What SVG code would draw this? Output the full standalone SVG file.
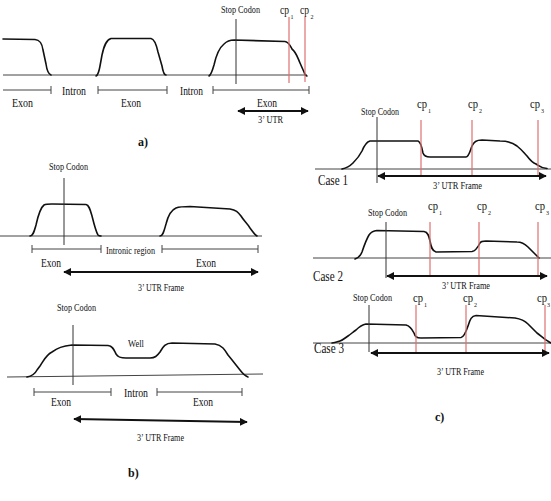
<svg xmlns="http://www.w3.org/2000/svg" width="551" height="501" viewBox="0 0 551 501">
<style>
text{font-family:"Liberation Serif","Times New Roman",serif;fill:#111}
.sm{font-size:10px}
.md{font-size:12px}
.lg{font-size:14px}
.cp{font-size:12px}
.sub{font-size:6px}
.lbl{font-size:12px;font-weight:bold}
.curve{fill:none;stroke:#111;stroke-width:1.6;stroke-linejoin:round;stroke-linecap:round}
.base{fill:none;stroke:#444;stroke-width:1}
.span{fill:none;stroke:#444;stroke-width:1}
.stop{stroke:#333;stroke-width:1}
.red{stroke:#e07070;stroke-width:1.2}
.arrow{stroke:#111;stroke-width:1.8;marker-start:url(#ah);marker-end:url(#ah)}
</style>
<defs>
<marker id="ah" viewBox="0 0 10 10" refX="9" refY="5" markerWidth="4.5" markerHeight="4.5" orient="auto-start-reverse">
<path d="M0,0 L10,5 L0,10 z" fill="#111"/>
</marker>
</defs>
<rect width="551" height="501" fill="#fff"/>

<!-- Panel a -->
<g id="panel-a">
<line class="base" x1="3" y1="75" x2="307" y2="75"/>
<path class="curve" d="M3,39 L35,39.5 C40,40 42,43 43,50 L46,64 C47,71 48,74 51,75"/>
<path class="curve" d="M96,76 C98,75 99,72 100,66 L102,55 C104,46 106,40 111,38.5 L151,38.5 C154,39 156,43 158,52 L162,66 C163,72 164,75 166,75"/>
<path class="curve" d="M209,76 C211,75 212,72 214,65 C216,56 219,48 224,44 C227,41 230,40 234,40 L285,41.5 C289,42 290,46 292,49 C296,52 297,56 300,63 L304,72 C305,75 306,76 307,76"/>
<line class="stop" x1="236" y1="19" x2="236" y2="84"/>
<line class="red" x1="289" y1="17" x2="289" y2="83"/>
<line class="red" x1="305" y1="17" x2="305" y2="82"/>
<text class="sm" x="221" y="12.5" textLength="39" lengthAdjust="spacingAndGlyphs">Stop Codon</text>
<text class="cp" x="280" y="14" textLength="9" lengthAdjust="spacingAndGlyphs">cp</text>
<text class="sub" x="290.5" y="19">1</text>
<text class="cp" x="300" y="14" textLength="9" lengthAdjust="spacingAndGlyphs">cp</text>
<text class="sub" x="310.5" y="19">2</text>
<path class="span" d="M3,90 L51,90 M51,86 L51,94"/>
<path class="span" d="M98,90 L167,90 M98,86 L98,94 M167,86 L167,94"/>
<path class="span" d="M213,90 L309,90 M213,86 L213,94 M309,86 L309,94"/>
<text class="md" x="62" y="95" textLength="24" lengthAdjust="spacingAndGlyphs">Intron</text>
<text class="md" x="180" y="95" textLength="23" lengthAdjust="spacingAndGlyphs">Intron</text>
<text class="md" x="12" y="107" textLength="21" lengthAdjust="spacingAndGlyphs">Exon</text>
<text class="md" x="121" y="107" textLength="20" lengthAdjust="spacingAndGlyphs">Exon</text>
<text class="md" x="257" y="107" textLength="20" lengthAdjust="spacingAndGlyphs">Exon</text>
<line class="arrow" x1="238" y1="111" x2="308" y2="111"/>
<text class="sm" x="258" y="123" textLength="25" lengthAdjust="spacingAndGlyphs">3’ UTR</text>
<text class="lbl" x="138" y="146">a)</text>
</g>

<!-- Panel b top -->
<g id="panel-b-top">
<line class="base" x1="0" y1="236" x2="262" y2="236"/>
<path class="curve" d="M30,236 C33,236 34,232 36,225 C38,216 40,208 44,205 C46,204 48,204 52,204 L86,204.5 C89,205 90,209 92,216 C94,224 96,232 98,235 C99,236 100,236 101,236"/>
<path class="curve" d="M160,236 C163,236 164,231 166,224 C168,216 171,210 176,208 C180,206.5 184,206.5 190,206.5 L230,209 C236,210 238,212 241,216 C244,221 247,223 250,228 C253,232 255,235 257,236"/>
<line class="stop" x1="64" y1="178" x2="64" y2="245"/>
<text class="sm" x="49" y="170" textLength="39" lengthAdjust="spacingAndGlyphs">Stop Codon</text>
<path class="span" d="M32,249 L101,249 M32,245 L32,253 M101,245 L101,253"/>
<path class="span" d="M162,249 L258,249 M162,245 L162,253 M258,245 L258,253"/>
<text class="sm" x="106" y="254" textLength="49" lengthAdjust="spacingAndGlyphs">Intronic region</text>
<text class="md" x="41" y="267" textLength="20" lengthAdjust="spacingAndGlyphs">Exon</text>
<text class="md" x="196" y="267" textLength="20" lengthAdjust="spacingAndGlyphs">Exon</text>
<line class="arrow" x1="64" y1="272" x2="258" y2="272"/>
<text class="sm" x="138" y="291" textLength="46" lengthAdjust="spacingAndGlyphs">3’ UTR Frame</text>
</g>

<!-- Panel b bottom -->
<g id="panel-b-bottom">
<line class="base" x1="7" y1="377" x2="263" y2="374"/>
<path class="curve" d="M27,377 C32,376 35,374 37,370 L40,366 C44,360 46,355 52,352 C58,348 62,346 72,345 L108,345.5 C113,346 114,350 116,354 C118,357 120,358 126,358 L150,358 C155,358 157,356 160,352 C163,347 165,343 172,343 L215,344 C222,345 225,350 228,355 C233,361 236,365 240,370 C243,374 245,376 248,377"/>
<line class="stop" x1="73" y1="325" x2="73" y2="385"/>
<text class="sm" x="57" y="311" textLength="39" lengthAdjust="spacingAndGlyphs">Stop Codon</text>
<text class="sm" x="128" y="347" textLength="16" lengthAdjust="spacingAndGlyphs">Well</text>
<path class="span" d="M34,392 L111,392 M34,388 L34,396 M111,388 L111,396"/>
<path class="span" d="M157,392 L242,392 M157,388 L157,396 M242,388 L242,396"/>
<text class="md" x="124" y="397" textLength="24" lengthAdjust="spacingAndGlyphs">Intron</text>
<text class="md" x="51" y="406" textLength="20" lengthAdjust="spacingAndGlyphs">Exon</text>
<text class="md" x="193" y="406" textLength="20" lengthAdjust="spacingAndGlyphs">Exon</text>
<line class="arrow" x1="74" y1="419" x2="247" y2="422"/>
<text class="sm" x="137" y="441" textLength="47" lengthAdjust="spacingAndGlyphs">3’ UTR Frame</text>
<text class="lbl" x="128" y="477">b)</text>
</g>

<!-- Panel c, case 1 -->
<g id="case-1">
<line class="base" x1="315" y1="169" x2="551" y2="169"/>
<path class="curve" d="M342,169 C347,168 350,166 353,163 C357,159 360,155 362,151 C364,146 366,142 370,141 L418,141 C421,142 422,148 423,153 C424,156 426,157 430,157 L466,157 C469,157 470,151 472,146 C474,142 476,140 482,140 L500,141 C508,141 513,143 517,146 C522,150 524,153 527,156 C530,160 533,163 536,164 C539,166 541,168 547,168.5"/>
<line class="stop" x1="377" y1="117" x2="377" y2="183"/>
<line class="red" x1="421" y1="120" x2="421" y2="175"/>
<line class="red" x1="472" y1="120" x2="472" y2="175"/>
<line class="red" x1="538" y1="120" x2="538" y2="175"/>
<text class="sm" x="361" y="115" textLength="38" lengthAdjust="spacingAndGlyphs">Stop Codon</text>
<text class="cp" x="417" y="108" textLength="10" lengthAdjust="spacingAndGlyphs">cp</text>
<text class="sub" x="428" y="113">1</text>
<text class="cp" x="468" y="108" textLength="10" lengthAdjust="spacingAndGlyphs">cp</text>
<text class="sub" x="479" y="113">2</text>
<text class="cp" x="530" y="108" textLength="10" lengthAdjust="spacingAndGlyphs">cp</text>
<text class="sub" x="541" y="113">3</text>
<text class="lg" x="318" y="185" textLength="30" lengthAdjust="spacingAndGlyphs">Case 1</text>
<line class="arrow" x1="378" y1="176" x2="546" y2="176"/>
<text class="sm" x="433" y="189" textLength="49" lengthAdjust="spacingAndGlyphs">3’ UTR Frame</text>
</g>

<!-- Panel c, case 2 -->
<g id="case-2">
<line class="base" x1="313" y1="258" x2="551" y2="258"/>
<path class="curve" d="M355,259 C358,258 360,257 362,252 C364,246 366,240 369,235 C371,232 373,231 377,230.5 L424,231.5 C428,232 429,236 430,241 C431,247 432,251 436,252 L472,251.5 C476,251 478,247 480,243 C481,241 483,241 486,241 L517,242 C522,242 525,244 528,247 C531,250 533,252 535,254 C537,256 538,257 539,258"/>
<line class="stop" x1="386" y1="222" x2="386" y2="278"/>
<line class="red" x1="430" y1="222" x2="430" y2="277"/>
<line class="red" x1="479" y1="222" x2="479" y2="277"/>
<line class="red" x1="538" y1="222" x2="538" y2="277"/>
<text class="sm" x="368" y="216" textLength="39" lengthAdjust="spacingAndGlyphs">Stop Codon</text>
<text class="cp" x="428" y="210" textLength="10" lengthAdjust="spacingAndGlyphs">cp</text>
<text class="sub" x="439" y="215">1</text>
<text class="cp" x="477" y="210" textLength="10" lengthAdjust="spacingAndGlyphs">cp</text>
<text class="sub" x="488" y="215">2</text>
<text class="cp" x="535" y="210" textLength="10" lengthAdjust="spacingAndGlyphs">cp</text>
<text class="sub" x="546" y="215">3</text>
<text class="lg" x="313" y="281" textLength="30" lengthAdjust="spacingAndGlyphs">Case 2</text>
<line class="arrow" x1="387" y1="276" x2="547" y2="276"/>
<text class="sm" x="442" y="289" textLength="48" lengthAdjust="spacingAndGlyphs">3’ UTR Frame</text>
</g>

<!-- Panel c, case 3 -->
<g id="case-3">
<line class="base" x1="313" y1="343" x2="551" y2="343"/>
<path class="curve" d="M332,343 C335,343 337,342 340,341 C343,340 345,338 348,336 C351,334 353,332 356,330 C359,327 361,325 366,324 L406,325 C410,326 412,329 414,333 C415,336 416,338 421,338 L461,337.5 C464,337 466,332 468,326 C470,320 471,316 476,315.5 L515,318 C521,319 524,320 528,324 C531,327 534,330 537,333 C541,336 543,338 546,340 C548,341 549,342 551,343"/>
<line class="stop" x1="369" y1="305" x2="369" y2="352"/>
<line class="red" x1="416" y1="305" x2="416" y2="352"/>
<line class="red" x1="466" y1="305" x2="466" y2="352"/>
<line class="red" x1="545" y1="305" x2="545" y2="352"/>
<text class="sm" x="353" y="301" textLength="39" lengthAdjust="spacingAndGlyphs">Stop Codon</text>
<text class="cp" x="413" y="302" textLength="10" lengthAdjust="spacingAndGlyphs">cp</text>
<text class="sub" x="424" y="307">1</text>
<text class="cp" x="463" y="302" textLength="10" lengthAdjust="spacingAndGlyphs">cp</text>
<text class="sub" x="474" y="307">2</text>
<text class="cp" x="537" y="302" textLength="10" lengthAdjust="spacingAndGlyphs">cp</text>
<text class="sub" x="547" y="307">3</text>
<text class="lg" x="314" y="353" textLength="30" lengthAdjust="spacingAndGlyphs">Case 3</text>
<line class="arrow" x1="371" y1="353" x2="549" y2="353"/>
<text class="sm" x="437" y="375" textLength="47" lengthAdjust="spacingAndGlyphs">3’ UTR Frame</text>
<text class="lbl" x="435" y="421">c)</text>
</g>
</svg>
